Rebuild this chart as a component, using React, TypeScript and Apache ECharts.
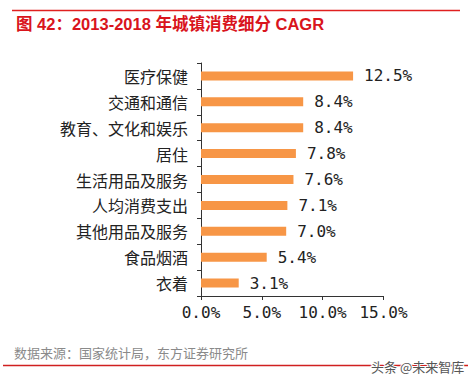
import React, { useEffect, useRef } from "react";
import * as echarts from "echarts";

const categories = ["医疗保健", "交通和通信", "教育、文化和娱乐", "居住", "生活用品及服务", "人均消费支出", "其他用品及服务", "食品烟酒", "衣着"];
const cagrValues = [12.5, 8.4, 8.4, 7.8, 7.6, 7.1, 7.0, 5.4, 3.1];
const xTicks = [0, 5, 10, 15];
const titleText = "图 42：2013-2018 年城镇消费细分 CAGR";
const sourceText = "数据来源：国家统计局，东方证券研究所";
const watermark = "头条 @未来智库";

export default function App() {
  const ref = useRef<HTMLDivElement>(null);
  useEffect(() => {
    document.body.style.margin = "0";
    const chart = echarts.init(ref.current!, null, { renderer: "svg" });
    chart.setOption({
      animation: false,
      backgroundColor: "#ffffff",
      grid: { left: 201, top: 63, width: 182.5, height: 233, containLabel: false },
      xAxis: {
        type: "value",
        min: xTicks[0],
        max: xTicks[xTicks.length - 1],
        interval: 5,
        axisLine: { show: true, lineStyle: { color: "#333", width: 1 } },
        axisTick: { show: true, length: 4, lineStyle: { color: "#333" } },
        splitLine: { show: false },
        axisLabel: {
          margin: 8,
          color: "#222",
          fontSize: 16,
          fontFamily: "DejaVu Sans Mono",
          formatter: (v: number) => v.toFixed(1) + "%",
        },
      },
      yAxis: {
        type: "category",
        data: categories,
        inverse: true,
        axisLine: { show: true, lineStyle: { color: "#333", width: 1 } },
        axisTick: { show: true, length: 4, lineStyle: { color: "#333" } },
        axisLabel: { margin: 13, color: "#222", fontSize: 16, fontFamily: "Noto Sans CJK SC" },
      },
      series: [
        {
          type: "bar",
          data: cagrValues,
          barWidth: 9,
          itemStyle: { color: "#F79646" },
          label: {
            show: true,
            position: "right",
            distance: 11,
            color: "#222",
            fontSize: 16,
            fontFamily: "DejaVu Sans Mono",
            formatter: (p: any) => Number(p.value).toFixed(1) + "%",
          },
        },
      ],
      graphic: [
        { type: "line", shape: { x1: 12, y1: 10.5, x2: 460, y2: 10.5 }, style: { stroke: "#E02020", lineWidth: 1.5 } },
        {
          type: "text",
          x: 16,
          y: 24,
          style: { text: titleText, fill: "#D9141C", font: "bold 16.5px 'Liberation Sans', 'Noto Sans CJK SC'", textVerticalAlign: "middle" },
        },
        {
          type: "text",
          x: 14,
          y: 352,
          style: { text: sourceText, fill: "#8a8a8a", font: "13px 'Noto Sans CJK SC'", textVerticalAlign: "middle" },
        },
        { type: "line", shape: { x1: 3, y1: 365.5, x2: 468, y2: 365.5 }, style: { stroke: "#D02020", lineWidth: 1.5 } },
        {
          type: "text",
          x: 371,
          y: 366,
          z: 10,
          style: {
            text: watermark,
            fill: "#555",
            stroke: "#ffffff",
            lineWidth: 2,
            font: "13px 'Noto Sans CJK SC'",
            textVerticalAlign: "middle",
          },
        },
      ],
    });
    return () => chart.dispose();
  }, []);
  return <div ref={ref} style={{ width: 470, height: 383 }} />;
}
